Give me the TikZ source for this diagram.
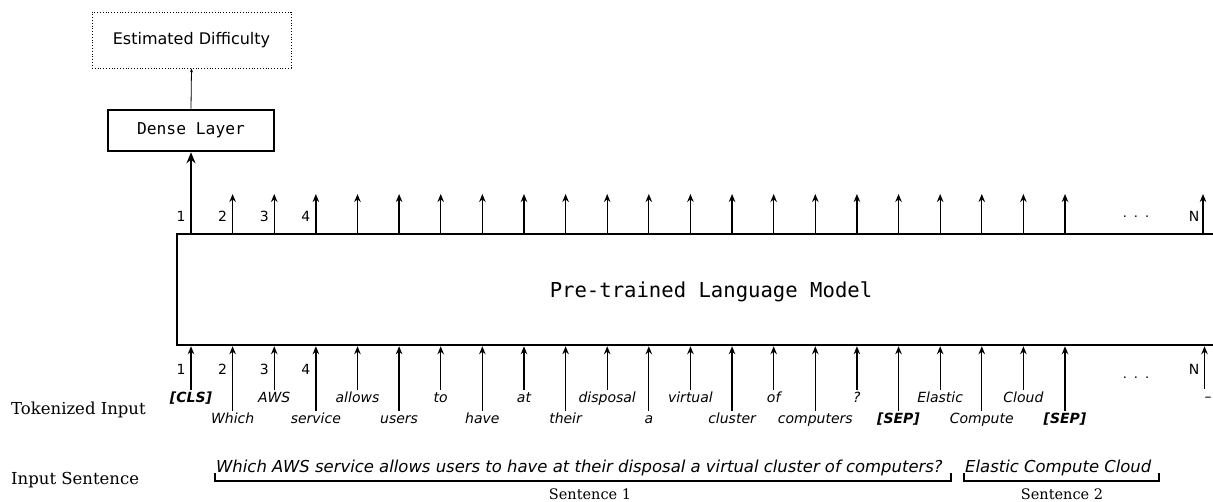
\documentclass[tikz,border=0pt]{standalone}
\usepackage{fontspec}
\setmainfont{DejaVu Sans}
\newfontfamily\dvserif{DejaVu Serif}
\newfontfamily\dvmono{DejaVu Sans Mono}
\usetikzlibrary{arrows.meta,calc}
\begin{document}
\begin{tikzpicture}[x=1pt,y=-1pt,
  arr/.style={line width=1.3pt,-{Stealth[length=8pt,width=6.5pt]}},
  thickarr/.style={line width=2.6pt,-{Stealth[length=11pt,width=9pt]}},
  finearr/.style={line width=0.8pt,-{Stealth[length=4pt,width=3pt]}},
  tok/.style={font=\fontsize{14}{16}\selectfont\itshape,inner xsep=1pt,inner ysep=2pt,text height=10.5pt,text depth=3pt},
  num/.style={font=\fontsize{14}{16}\selectfont,inner sep=0pt},
  side/.style={font=\dvserif\fontsize{16.5}{19}\selectfont,anchor=west,inner sep=0pt},
  sent/.style={font=\fontsize{16.45}{19}\selectfont\itshape,anchor=base west,inner sep=0pt},
  brk/.style={line width=1.2pt},
  sentlbl/.style={font=\dvserif\fontsize{14.5}{17}\selectfont,inner sep=0pt},
  dotsl/.style={font=\fontsize{13}{15}\selectfont,inner sep=0pt},
  bigbox/.style={draw,line width=2.5pt,inner sep=0pt}
]
\clip (0,0) rectangle (1213,502);
% main model box
\node[bigbox,minimum width=1068pt,minimum height=111pt,font=\dvmono\fontsize{20.6}{24}\selectfont] (plm) at (711,289.5) {\raisebox{-8.5pt}[0pt][0pt]{Pre-trained Language Model}};
% dense layer and output
\node[bigbox,minimum width=166pt,minimum height=41pt,font=\dvmono\fontsize{16.3}{19}\selectfont] (dense) at (191,130.5) {Dense Layer};
\node[draw,dotted,line width=0.8pt,minimum width=199pt,minimum height=56pt,inner sep=0pt,font=\fontsize{16}{19}\selectfont] (est) at (191.5,40) {Estimated Difficulty};
\draw[finearr] (dense.north) -- (est.south);
\draw[thickarr] (plm.north -| dense.south) -- (dense.south);
% top output arrows
\foreach \k in {1,...,21}{
  \pgfmathsetmacro\xx{191+41.62*\k}
  \coordinate (o\k) at (\xx,194);
  \draw[arr] (o\k |- plm.north) -- (o\k);
}
\coordinate (oN) at (1203,194);
\draw[arr] (oN |- plm.north) -- (oN);
% numbers
\foreach \k/\n in {0/1,1/2,2/3,3/4}{
  \pgfmathsetmacro\xx{181+41.62*\k}
  \node[num] (tn\n) at (\xx,216) {\n};
  \node[num] (bn\n) at (\xx,369) {\n};
}
\node[num] (tnN) at (1194,216) {N};
\node[num] (bnN) at (1194,369) {N};
\node[dotsl] (tdots) at (1136,217) {.\hspace{7pt}.\hspace{7pt}.};
\node[dotsl] (bdots) at (1136,378) {.\hspace{7pt}.\hspace{7pt}.};
% tokens
\foreach \w [count=\i from 0] in {{\bfseries [CLS]},Which,AWS,service,allows,users,to,have,at,their,disposal,a,virtual,cluster,of,computers,?,{\bfseries [SEP]},Elastic,Compute,Cloud,{\bfseries [SEP]}}{
  \pgfmathsetmacro\xx{191+41.62*\i}
  \pgfmathtruncatemacro\r{mod(\i,2)}
  \pgfmathsetmacro\yy{\r==0 ? 398.5 : 419.5}
  \node[tok] (t\i) at (\xx,\yy) {\w};
  \draw[arr] (t\i.north) -- (t\i.north |- plm.south);
}
\node[tok,anchor=north west,inner xsep=0pt] (tN) at (1204.5,389) {--};
\draw[arr] (tN.north west) -- (tN.north west |- plm.south);
% side labels
\node[side] (lt) at (11,410) {Tokenized Input};
\node[side] (ls) at (11,480) {Input Sentence};
% input sentences
\node[sent] (s1) at (216,472) {Which AWS service allows users to have at their disposal a virtual cluster of computers?};
\node[sent] (s2) at (965,472) {Elastic Compute Cloud};
\draw[brk] (215,473) -- (215,481) -- (951,481) -- (951,473);
\draw[brk] (964,473) -- (964,481) -- (1159,481) -- (1159,473);
\node[sentlbl] (l1) at (590,494) {Sentence 1};
\node[sentlbl] (l2) at (1062,494) {Sentence 2};
\end{tikzpicture}
\end{document}
